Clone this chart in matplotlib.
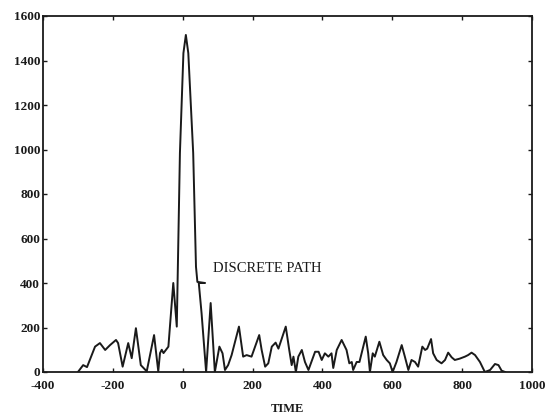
import matplotlib
matplotlib.use('Agg')
import matplotlib.pyplot as plt

# curve
t = [-300, -285, -274, -251, -237, -222, -208, -191, -185, -172, -156, -146, -134,
     -120, -103, -82, -70, -65, -60, -55, -41, -27, -17, -8, 2, 9, 16, 30, 38, 42,
     64, 46, 54, 67, 80, 92, 105, 114, 121, 130, 140, 161, 173, 183, 197, 219, 226, 236,
     245, 255, 266, 274, 295, 305, 312, 317, 324, 331, 341, 350, 360, 379, 389, 398,
     407, 417, 426, 431, 441, 455, 469, 477, 484, 488, 498, 506, 524, 531, 536, 544,
     550, 563, 574, 584, 593, 601, 612, 627, 636, 646, 655, 665, 674, 686, 694, 700,
     711, 717, 727, 741, 751, 760, 770, 779, 793, 808, 817, 827, 837, 851, 865, 880,
     894, 904, 913, 923]
amp = [0, 31, 22, 114, 130, 99, 121, 144, 130, 24, 130, 62, 197,
       31, 3, 166, 3, 85, 100, 85, 114, 400, 204, 984, 1433, 1515, 1433, 984, 473, 405,
       400, 400, 264, 0, 310, 0, 114, 84, 9, 31, 76, 204, 69, 76, 69, 166, 99, 24,
       39, 114, 132, 105, 204, 99, 31, 69, 0, 69, 99, 45, 9, 91, 91, 54,
       84, 69, 84, 18, 99, 144, 99, 39, 45, 9, 45, 45, 159, 84, 0, 84,
       69, 136, 76, 54, 39, 0, 45, 121, 69, 9, 54, 45, 24, 114, 99, 105,
       148, 84, 54, 39, 54, 87, 66, 54, 60, 69, 76, 87, 76, 45, 0, 9,
       36, 31, 6, 0]

xticks = [-400, -200, 0, 200, 400, 600, 800, 1000]
yticks = [0, 200, 400, 600, 800, 1000, 1200, 1400, 1600]

plt.rcParams['font.family'] = ['Liberation Serif', 'DejaVu Serif']
plt.rcParams['axes.unicode_minus'] = False

fig = plt.figure(figsize=(5.48, 4.20), dpi=100)
ax = fig.add_axes([43/548, 1-372/420, (532-43)/548, (372-16)/420])

ax.plot(t, amp, color='#1a1a1a', lw=1.4)

ax.set_xlim(-400, 1000)
ax.set_ylim(0, 1600)
ax.set_xticks(xticks)
ax.set_yticks(yticks)
ax.tick_params(direction='in', length=3, width=1, top=True, right=True,
               labelsize=9.5, colors='#1a1a1a')
ax.tick_params(axis='x', pad=6)
ax.tick_params(axis='y', pad=2)
for lab in ax.get_xticklabels() + ax.get_yticklabels():
    lab.set_fontweight('bold')
for s in ax.spines.values():
    s.set_linewidth(1.3)
    s.set_color('#1a1a1a')

ax.text(87, 467, 'DISCRETE PATH', fontsize=10.5, va='center', ha='left', color='#1a1a1a')
ax.set_xlabel('TIME', fontsize=9, fontweight='bold', labelpad=8, color='#1a1a1a')

fig.savefig('out.png', dpi=100)
